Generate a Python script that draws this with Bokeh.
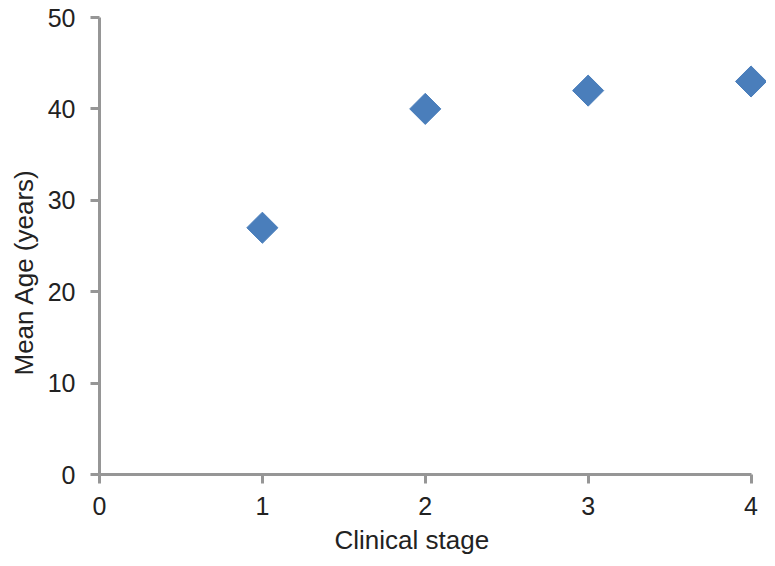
import math
from bokeh.plotting import figure
from bokeh.models import FixedTicker, Range1d, Title
from bokeh.embed import file_html
from bokeh.resources import INLINE

stages = [1, 2, 3, 4]
mean_age = [27, 40, 42, 43]
x_ticks = [0, 1, 2, 3, 4]
y_ticks = [0, 10, 20, 30, 40, 50]
x_title = "Clinical stage"
y_title = "Mean Age (years)"

p = figure(width=766, height=566, output_backend="svg", toolbar_location=None,
           x_range=Range1d(0, 4.095), y_range=Range1d(0, 50),
           min_border_left=99, min_border_right=0, min_border_top=17, min_border_bottom=92)
p.outline_line_color = None
p.xgrid.grid_line_color = None
p.ygrid.grid_line_color = None

p.scatter(stages, mean_age, marker="square", size=22, angle=math.pi / 4,
          fill_color="#4A7EBB", line_color="#4A7EBB")

for ax in (p.xaxis[0], p.yaxis[0]):
    ax.axis_line_color = "#969696"
    ax.axis_line_width = 3
    ax.major_tick_line_color = "#969696"
    ax.major_tick_line_width = 3
    ax.major_tick_out = 9
    ax.major_tick_in = 0
    ax.minor_tick_line_color = None
    ax.major_label_text_font = "Liberation Sans"
    ax.major_label_text_font_size = "25px"
    ax.major_label_text_color = "#222222"

p.xaxis[0].bounds = (0, 4)
p.xaxis[0].ticker = FixedTicker(ticks=x_ticks)
p.yaxis[0].ticker = FixedTicker(ticks=y_ticks)
p.xaxis[0].major_label_standoff = 13
p.yaxis[0].major_label_standoff = 15

title_style = dict(text_font="Liberation Sans", text_font_size="26px",
                   text_color="#222222", text_font_style="normal", align="left")
p.add_layout(Title(text=x_title, offset=235, standoff=11, **title_style), "below")
p.add_layout(Title(text=y_title, offset=99, standoff=12, **title_style), "left")

open("out.html", "w").write(file_html(p, INLINE))
